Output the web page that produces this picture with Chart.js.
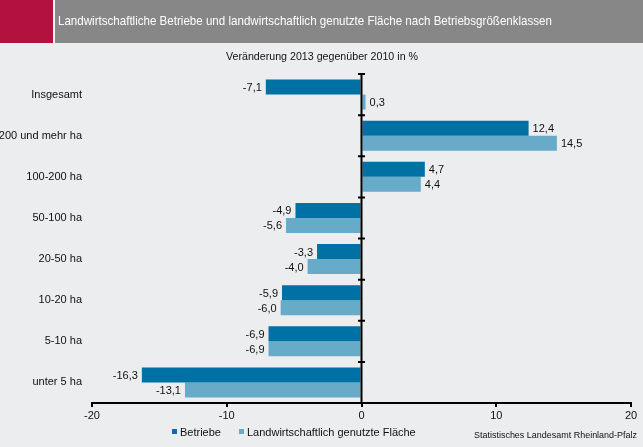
<!DOCTYPE html>
<html>
<head>
<meta charset="utf-8">
<script src="https://cdn.jsdelivr.net/npm/chart.js@4.4.1/dist/chart.umd.min.js"></script>
<style>
  html, body { margin:0; padding:0; }
  body { width:643px; height:447px; position:relative; overflow:hidden; background:#ecedee; font-family:"Liberation Sans", Arial, sans-serif; }
  #red { position:absolute; left:0; top:0; width:53px; height:43px; background:#b4123e; }
  #gap { position:absolute; left:53px; top:0; width:2px; height:43px; background:#f4f4f4; }
  #gray { position:absolute; left:55px; top:0; width:588px; height:43px; background:#878787; }
  .fit { position:absolute; white-space:nowrap; line-height:1; transform-origin:0 0; }
  #title { left:58px; top:14px; font-size:13px; color:#fff; }
  #sub { left:226px; top:51px; font-size:11px; color:#111; }
  #src { left:474px; top:431px; font-size:9px; color:#111; }
  canvas { position:absolute; left:0; top:0; }
</style>
</head>
<body>
<div id="red"></div><div id="gap"></div><div id="gray"></div>
<canvas id="c" width="643" height="447"></canvas>
<span id="title" class="fit" data-w="494">Landwirtschaftliche Betriebe und landwirtschaftlich genutzte Fläche nach Betriebsgrößenklassen</span>
<span id="sub" class="fit" data-w="192">Veränderung 2013 gegenüber 2010 in %</span>
<span id="src" class="fit" data-w="163">Statistisches Landesamt Rheinland-Pfalz</span>
<script>
const categories = ["Insgesamt", "200 und mehr ha", "100-200 ha", "50-100 ha", "20-50 ha", "10-20 ha", "5-10 ha", "unter 5 ha"];
const betriebe = [-7.1, 12.4, 4.7, -4.9, -3.3, -5.9, -6.9, -16.3];
const flaeche = [0.3, 14.5, 4.4, -5.6, -4.0, -6.0, -6.9, -13.1];
const seriesNames = ["Betriebe", "Landwirtschaftlich genutzte Fläche"];
const xTicks = [-20, -10, 0, 10, 20];

document.querySelectorAll('.fit').forEach(el => {
  const w = el.getBoundingClientRect().width;
  const target = parseFloat(el.dataset.w);
  el.style.transform = 'scaleX(' + (target / w) + ')';
});

const FONT = '"Liberation Sans", Arial, sans-serif';
const fmt = v => v.toFixed(1).replace('.', ',');

const zeroTicks = {
  id: 'zeroTicks',
  afterDatasetsDraw(chart) {
    const ctx = chart.ctx, y = chart.scales.y, x = chart.scales.x, a = chart.chartArea;
    const x0 = x.getPixelForValue(0);
    const n = categories.length;
    ctx.save();
    ctx.strokeStyle = '#000';
    ctx.lineWidth = 2;
    ctx.beginPath();
    ctx.moveTo(x0, a.top); ctx.lineTo(x0, a.bottom);
    for (let i = 0; i <= n; i++) {
      let py;
      if (i === 0) py = a.top;
      else if (i === n) py = a.bottom;
      else py = (y.getPixelForValue(i - 1) + y.getPixelForValue(i)) / 2;
      ctx.moveTo(x0 - 3.5, py); ctx.lineTo(x0 + 3.5, py);
    }
    ctx.stroke();
    ctx.restore();
  }
};

const valueLabels = {
  id: 'valueLabels',
  afterDatasetsDraw(chart) {
    const ctx = chart.ctx;
    ctx.save();
    ctx.font = '11px ' + FONT;
    ctx.fillStyle = '#111';
    ctx.textBaseline = 'middle';
    chart.data.datasets.forEach((ds, di) => {
      chart.getDatasetMeta(di).data.forEach((bar, i) => {
        const v = ds.data[i];
        if (v >= 0) { ctx.textAlign = 'left'; ctx.fillText(fmt(v), bar.x + 4, bar.y + 1); }
        else { ctx.textAlign = 'right'; ctx.fillText(fmt(v), bar.x - 4, bar.y + 1); }
      });
    });
    ctx.restore();
  }
};

const customLegend = {
  id: 'customLegend',
  afterDraw(chart) {
    const ctx = chart.ctx;
    ctx.save();
    ctx.font = '11px ' + FONT;
    ctx.textBaseline = 'alphabetic';
    ctx.textAlign = 'left';
    let lx = 172;
    const base = 435.5;
    chart.data.datasets.forEach(ds => {
      ctx.fillStyle = ds.backgroundColor;
      ctx.fillRect(lx, 429, 5, 5);
      ctx.fillStyle = '#111';
      ctx.fillText(ds.label, lx + 8, base);
      lx += 8 + ctx.measureText(ds.label).width + 18;
    });
    ctx.restore();
  }
};

new Chart(document.getElementById('c'), {
  type: 'bar',
  data: {
    labels: categories,
    datasets: [
      { label: seriesNames[0], data: betriebe, backgroundColor: '#0071a4', barPercentage: 1, categoryPercentage: 0.73 },
      { label: seriesNames[1], data: flaeche, backgroundColor: '#67abc9', barPercentage: 1, categoryPercentage: 0.73 }
    ]
  },
  options: {
    indexAxis: 'y',
    responsive: false,
    animation: false,
    devicePixelRatio: 1,
    layout: { padding: { top: 74, right: 12, left: 0, bottom: 0 } },
    plugins: { legend: { display: false }, tooltip: { enabled: false }, title: { display: false } },
    scales: {
      x: {
        type: 'linear', min: -20, max: 20,
        afterBuildTicks: s => { s.ticks = xTicks.map(v => ({ value: v })); },
        afterFit: s => { s.height = 44; },
        ticks: { color: '#111', font: { size: 11, family: FONT }, padding: 2 },
        grid: { color: 'rgba(0,0,0,0)', lineWidth: 2, tickColor: '#000', tickLength: 4, tickWidth: 2, drawOnChartArea: false },
        border: { display: true, color: '#000', width: 2 }
      },
      y: {
        type: 'category',
        afterFit: s => { s.width = 92; },
        ticks: { color: '#111', font: { size: 11, family: FONT }, padding: 2 },
        grid: { display: false },
        border: { display: false }
      }
    }
  },
  plugins: [zeroTicks, valueLabels, customLegend]
});
</script>
</body>
</html>
